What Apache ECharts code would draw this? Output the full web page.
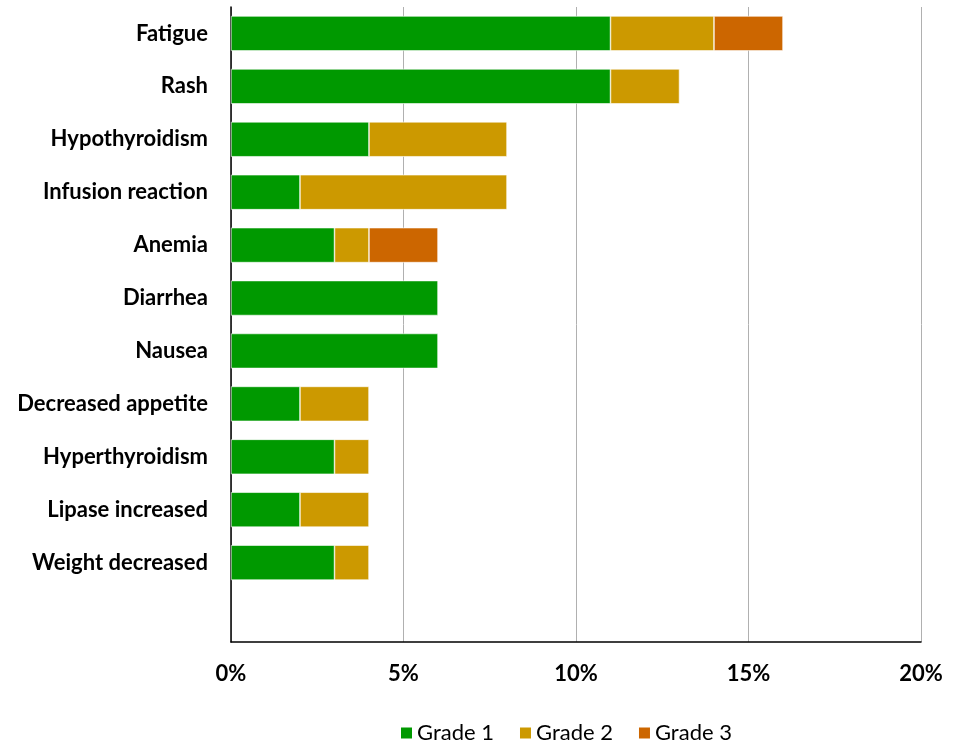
<!DOCTYPE html>
<html>
<head>
<meta charset="utf-8">
<script src="https://cdn.jsdelivr.net/npm/echarts@6/dist/echarts.min.js"></script>
<style>
  html, body { margin: 0; padding: 0; background: #fff; }
  #chart { width: 953px; height: 742px; }
</style>
</head>
<body>
<div id="chart"></div>
<script>
// Adverse events, listed top to bottom (last slot left blank)
const categories = [
  'Fatigue', 'Rash', 'Hypothyroidism', 'Infusion reaction', 'Anemia',
  'Diarrhea', 'Nausea', 'Decreased appetite', 'Hyperthyroidism',
  'Lipase increased', 'Weight decreased', ''
];
// Percent of patients per grade
const grade1 = [11, 11, 4, 2, 3, 6, 6, 2, 3, 2, 3, null];
const grade2 = [3, 2, 4, 6, 1, null, null, 2, 1, 2, 1, null];
const grade3 = [2, null, null, null, 2, null, null, null, null, null, null, null];
const xTicks = [0, 5, 10, 15, 20];

const FONT = 'Lato, "Liberation Sans", sans-serif';

const chart = echarts.init(document.getElementById('chart'), null, { renderer: 'canvas' });

function barSeries(name, data, color) {
  return {
    name: name,
    type: 'bar',
    stack: 'total',
    data: data,
    barWidth: '66%',
    itemStyle: { color: color, borderColor: '#ffffff', borderWidth: 0.6 },
    emphasis: { disabled: true }
  };
}

chart.setOption({
  animation: false,
  textStyle: { fontFamily: FONT },
  grid: { left: 231, right: 32, top: 7, bottom: 100, containLabel: false },
  legend: {
    top: 717,
    left: 394,
    itemWidth: 13,
    itemHeight: 13,
    itemGap: 24,
    icon: 'rect',
    textStyle: { fontFamily: FONT, fontSize: 22, color: '#000', padding: [0, 0, 0, -1] },
    data: ['Grade 1', 'Grade 2', 'Grade 3']
  },
  xAxis: {
    type: 'value',
    min: xTicks[0],
    max: xTicks[xTicks.length - 1],
    interval: 5,
    axisLine: { show: true, lineStyle: { color: '#000', width: 1.5 } },
    axisTick: { show: false },
    splitLine: { show: true, lineStyle: { color: '#b0b0b0', width: 1 } },
    axisLabel: {
      margin: 21,
      fontFamily: FONT,
      fontSize: 22,
      fontWeight: 'bold',
      color: '#000',
      formatter: v => v + '%'
    }
  },
  yAxis: {
    type: 'category',
    inverse: true,
    data: categories,
    axisLine: { show: true, lineStyle: { color: '#000', width: 1.5 } },
    axisTick: { show: false },
    axisLabel: {
      margin: 23,
      fontFamily: FONT,
      fontSize: 22,
      fontWeight: 'bold',
      color: '#000'
    }
  },
  series: [
    barSeries('Grade 1', grade1, '#009900'),
    barSeries('Grade 2', grade2, '#cc9900'),
    barSeries('Grade 3', grade3, '#cc6600')
  ]
});
</script>
</body>
</html>
